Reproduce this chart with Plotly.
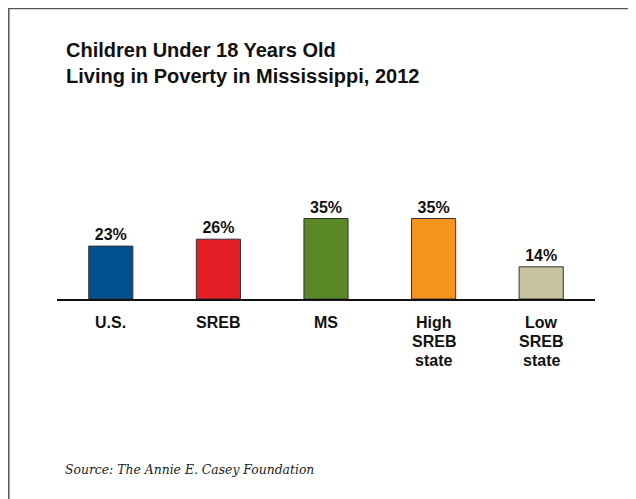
import plotly.graph_objects as go

categories = ["U.S.", "SREB", "MS", "High SREB state", "Low SREB state"]
tick_labels = [["U.S."], ["SREB"], ["MS"], ["High", "SREB", "state"], ["Low", "SREB", "state"]]
values = [23, 26, 35, 35, 14]
value_labels = ["<b>23%</b>", "<b>26%</b>", "<b>35%</b>", "<b>35%</b>", "<b>14%</b>"]
colors = ["#02508F", "#E31E25", "#5B8827", "#F7941E", "#C8C49F"]

W, H = 636, 499
OFF = 8  # page offset of the figure inside the browser window
L, R, T, B = 49, 49, 176, 208
pw, ph = W - L - R, H - T - B

def px_x(x):
    return (x - OFF - L) / pw

def px_y(y):
    return (H - B - (y - OFF)) / ph

fig = go.Figure()
fig.add_trace(go.Bar(
    x=categories, y=values, width=0.41,
    marker=dict(color=colors, line=dict(color="#333333", width=1)),
    text=value_labels, textposition="outside", cliponaxis=False,
    textfont=dict(family="Liberation Sans, Arial, sans-serif", size=16, color="#111111"),
    hoverinfo="skip",
))

fig.update_layout(
    width=W, height=H,
    margin=dict(l=L, r=R, t=T, b=B),
    paper_bgcolor="white", plot_bgcolor="white",
    showlegend=False,
    xaxis=dict(
        showticklabels=False,
        showline=True, linecolor="#111111", linewidth=1.5,
        showgrid=False, zeroline=False, ticks="",
        fixedrange=True,
    ),
    yaxis=dict(range=[0, 50], visible=False, showgrid=False, zeroline=False, fixedrange=True),
    font=dict(family="Liberation Sans, Arial, sans-serif"),
)

# category labels, line by line under the axis
for cat, lines in zip(categories, tick_labels):
    for i, line in enumerate(lines):
        fig.add_annotation(
            x=cat, y=0, xref="x", yref="y", yanchor="middle",
            yshift=-(23 + 19 * i),
            text=f"<b>{line}</b>", showarrow=False,
            font=dict(family="Liberation Sans, Arial, sans-serif", size=16, color="#111111"),
        )

# title
fig.add_annotation(
    xref="paper", yref="paper", x=px_x(64), y=px_y(37), xanchor="left", yanchor="top",
    text="<b>Children Under 18 Years Old<br>Living in Poverty in Mississippi, 2012</b>",
    showarrow=False, align="left",
    font=dict(family="Liberation Sans, Arial, sans-serif", size=20, color="#111111"),
)
# source
fig.add_annotation(
    xref="paper", yref="paper", x=px_x(63), y=px_y(469), xanchor="left", yanchor="middle",
    text="<i>Source: The Annie E. Casey Foundation</i>",
    showarrow=False, align="left",
    font=dict(family="DejaVu Serif, Georgia, serif", size=12.4, color="#222222"),
)
# border frame (top and left visible)
fig.add_shape(
    type="rect", xref="paper", yref="paper",
    x0=px_x(8.8), x1=px_x(W + 20), y0=px_y(H + 20), y1=px_y(8.5),
    line=dict(color="#555555", width=1.5), fillcolor="rgba(0,0,0,0)", layer="below",
)

fig.write_html("out.html")
